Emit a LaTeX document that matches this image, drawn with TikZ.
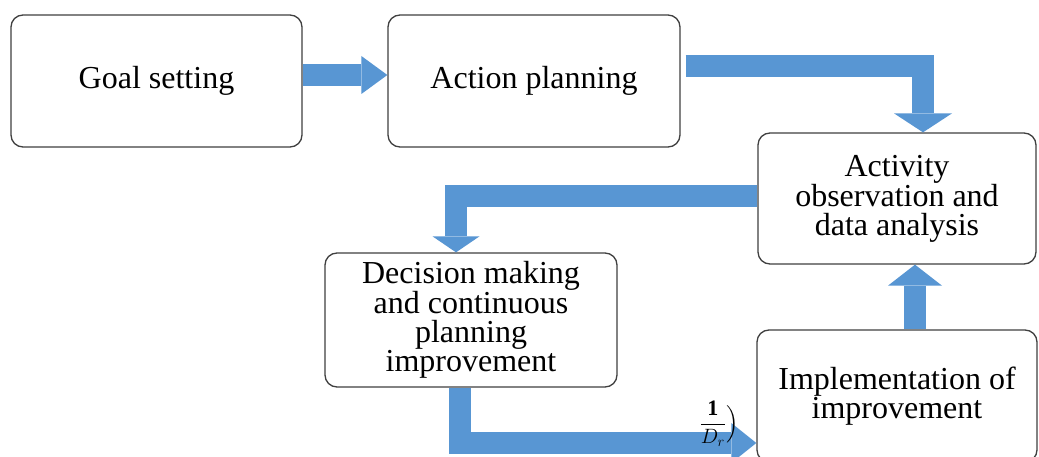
\documentclass[tikz,border=0pt]{standalone}
\usepackage{amsmath}
\usepackage{fontspec}
\setmainfont{Liberation Serif}
\usetikzlibrary{positioning,arrows.meta}
\definecolor{flowblue}{RGB}{88,150,211}
\definecolor{boxgray}{RGB}{64,64,64}
\tikzset{
  stage/.style={draw=boxgray,line width=1.3pt,rounded corners=12pt,align=center,
    font=\fontsize{32}{29}\selectfont,inner sep=4pt},
  flow/.style 2 args={draw=flowblue,line width=22pt,line join=miter,
    -{Triangle[width=#1,length=#2,line width=0pt]}}
}
\begin{document}
\begin{tikzpicture}[x=1pt,y=-1pt]
  \clip (0,0) rectangle (1039,457);
  \fill[white] (0,0) rectangle (1039,457);
  % stages
  \node[stage,minimum width=291pt,minimum height=132pt](goal) at (156.5,81){Goal setting};
  \node[stage,minimum width=292pt,minimum height=132pt](action) at (534,81){Action planning};
  \node[stage,minimum width=278pt,minimum height=131pt](activity) at (897,198.5){Activity\\observation and\\data analysis};
  \node[stage,minimum width=292pt,minimum height=134pt](decision) at (471,320){Decision making\\and continuous\\planning\\improvement};
  \node[stage,minimum width=280pt,minimum height=132pt](impl) at (897,396){Implementation of\\improvement};
  % block arrows
  \draw[flow={38pt}{26pt}] ([yshift=6pt]goal.east) -- ([yshift=6pt]action.west);
  \draw[flow={58pt}{19pt}] ([xshift=5pt,yshift=15pt]action.east) -| ([xshift=26pt]activity.north);
  \draw[flow={47pt}{16pt}] ([yshift=2pt]activity.west) -| ([xshift=-15pt]decision.north);
  \draw[flow={40pt}{25pt}] ([xshift=-11.5pt]decision.south) |- ([yshift=-47pt]impl.west);
  \draw[flow={54pt}{21pt}] ([xshift=18pt]impl.north) -- ([xshift=18pt]activity.south);
  % stray formula
  \node[font=\fontsize{22}{22}\selectfont,inner sep=0pt](ratio) at (719,424){$\dfrac{\mathbf{1}}{D_r}\Big)$};
\end{tikzpicture}
\end{document}
